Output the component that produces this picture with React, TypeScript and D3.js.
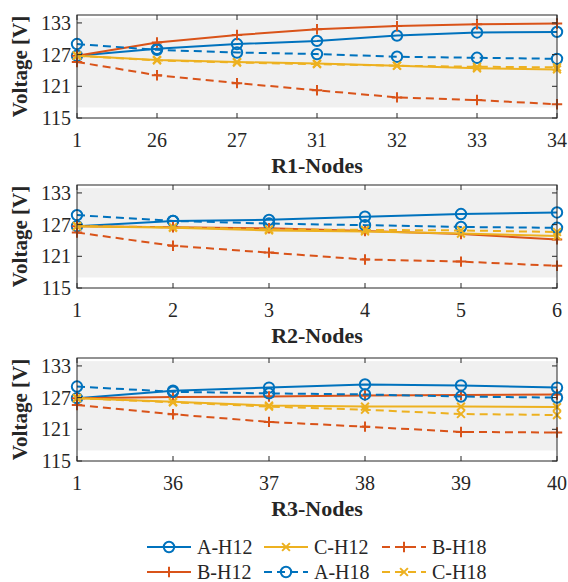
import React from "react";
import * as d3 from "d3";

const r1Nodes = ["1", "26", "27", "31", "32", "33", "34"];
const r2Nodes = ["1", "2", "3", "4", "5", "6"];
const r3Nodes = ["1", "36", "37", "38", "39", "40"];
const yTicks = [115, 121, 127, 133];
const seriesNames = ["A-H12", "B-H12", "C-H12", "A-H18", "B-H18", "C-H18"];

// R1 panel values
const r1AH12 = [126.8, 128.1, 129.0, 129.6, 130.6, 131.2, 131.3];
const r1BH12 = [126.8, 129.3, 130.7, 131.8, 132.4, 132.75, 132.9];
const r1CH12 = [126.8, 126.0, 125.6, 125.3, 124.9, 124.4, 124.2];
const r1AH18 = [129.0, 127.9, 127.4, 127.1, 126.6, 126.4, 126.2];
const r1BH18 = [125.6, 123.1, 121.6, 120.25, 118.9, 118.4, 117.6];
const r1CH18 = [126.8, 125.9, 125.5, 125.2, 124.9, 124.7, 124.6];

// R2 panel values
const r2AH12 = [126.7, 127.7, 127.9, 128.5, 129.0, 129.3];
const r2BH12 = [126.7, 126.5, 126.3, 125.8, 125.2, 124.2];
const r2CH12 = [126.7, 126.4, 125.9, 125.7, 125.3, 124.85];
const r2AH18 = [128.8, 127.7, 127.2, 126.9, 126.55, 126.4];
const r2BH18 = [125.5, 123.0, 121.7, 120.4, 120.0, 119.2];
const r2CH18 = [126.7, 126.5, 126.1, 126.0, 125.9, 125.6];

// R3 panel values
const r3AH12 = [126.9, 128.3, 128.9, 129.5, 129.3, 128.9];
const r3BH12 = [126.9, 127.1, 127.2, 127.4, 127.5, 127.6];
const r3CH12 = [126.9, 126.2, 125.5, 125.3, 125.3, 125.2];
const r3AH18 = [129.1, 128.1, 127.8, 127.6, 127.2, 127.0];
const r3BH18 = [125.6, 123.85, 122.4, 121.5, 120.5, 120.4];
const r3CH18 = [126.9, 126.1, 125.3, 124.7, 123.9, 123.7];

const BLUE = "#0072BD";
const ORANGE = "#D95319";
const YELLOW = "#EDB120";
const AX = "#262626";
const FONT = "'Liberation Serif', 'Times New Roman', serif";

type Style = { color: string; dashed: boolean; marker: "o" | "+" | "x" };
const styles: Style[] = [
  { color: BLUE, dashed: false, marker: "o" },
  { color: ORANGE, dashed: false, marker: "+" },
  { color: YELLOW, dashed: false, marker: "x" },
  { color: BLUE, dashed: true, marker: "o" },
  { color: ORANGE, dashed: true, marker: "+" },
  { color: YELLOW, dashed: true, marker: "x" },
];

const panels = [
  { nodes: r1Nodes, title: "R1-Nodes", top: 15, series: [r1AH12, r1BH12, r1CH12, r1AH18, r1BH18, r1CH18] },
  { nodes: r2Nodes, title: "R2-Nodes", top: 185, series: [r2AH12, r2BH12, r2CH12, r2AH18, r2BH18, r2CH18] },
  { nodes: r3Nodes, title: "R3-Nodes", top: 358, series: [r3AH12, r3BH12, r3CH12, r3AH18, r3BH18, r3CH18] },
];

const LEFT = 77;
const RIGHT = 557;
const PH = 103;

function Marker({ x, y, m, color }: { x: number; y: number; m: string; color: string }) {
  const r = 5.2;
  if (m === "o") return <circle cx={x} cy={y} r={r} fill="none" stroke={color} strokeWidth={2} />;
  if (m === "+")
    return (
      <path d={`M${x - r},${y}H${x + r}M${x},${y - r}V${y + r}`} stroke={color} strokeWidth={2} fill="none" />
    );
  const k = r * 0.75;
  return (
    <path d={`M${x - k},${y - k}L${x + k},${y + k}M${x - k},${y + k}L${x + k},${y - k}`} stroke={color} strokeWidth={2} fill="none" />
  );
}

function Panel({ p }: { p: (typeof panels)[number] }) {
  const x = d3.scalePoint<string>().domain(p.nodes).range([LEFT, RIGHT]);
  const y = d3.scaleLinear().domain([115, 134.5]).range([p.top + PH, p.top]);
  const bottom = p.top + PH;
  return (
    <g>
      <rect x={LEFT} y={y(133.9)} width={RIGHT - LEFT} height={y(117) - y(133.9)} fill="#f0f0f0" />
      {p.series.map((vals, i) => {
        const s = styles[i];
        const line = d3
          .line<number>()
          .x((_, j) => x(p.nodes[j])!)
          .y((v) => y(v));
        return (
          <g key={i}>
            <path d={line(vals)!} fill="none" stroke={s.color} strokeWidth={2} strokeDasharray={s.dashed ? "8,5" : undefined} />
            {vals.map((v, j) => (
              <Marker key={j} x={x(p.nodes[j])!} y={y(v)} m={s.marker} color={s.color} />
            ))}
          </g>
        );
      })}
      <rect x={LEFT} y={p.top} width={RIGHT - LEFT} height={PH} fill="none" stroke={AX} strokeWidth={1} />
      {yTicks.map((t) => (
        <g key={t}>
          <line x1={LEFT} x2={LEFT + 5} y1={y(t)} y2={y(t)} stroke={AX} />
          <line x1={RIGHT} x2={RIGHT - 5} y1={y(t)} y2={y(t)} stroke={AX} />
          <text x={LEFT - 6} y={y(t)} dy="0.35em" textAnchor="end" fontSize={20} fill={AX} fontFamily={FONT}>
            {t}
          </text>
        </g>
      ))}
      {p.nodes.map((n) => (
        <g key={n}>
          <line x1={x(n)} x2={x(n)} y1={bottom} y2={bottom - 5} stroke={AX} />
          <line x1={x(n)} x2={x(n)} y1={p.top} y2={p.top + 5} stroke={AX} />
          <text x={x(n)} y={bottom + 29} textAnchor="middle" fontSize={20} fill={AX} fontFamily={FONT}>
            {n}
          </text>
        </g>
      ))}
      <text x={(LEFT + RIGHT) / 2} y={bottom + 55} textAnchor="middle" fontSize={22} fontWeight="bold" fill={AX} fontFamily={FONT}>
        {p.title}
      </text>
      <text
        transform={`translate(27,${p.top + PH / 2}) rotate(-90)`}
        textAnchor="middle"
        fontSize={21}
        fontWeight="bold"
        fill={AX}
        fontFamily={FONT}
      >
        Voltage [V]
      </text>
    </g>
  );
}

const legendCols = [147, 264, 382];
const legendRows = [547, 572];

export default function App() {
  return (
    <svg width={568} height={582} style={{ position: "absolute", left: 0, top: 0, background: "#fff" }}>
      {panels.map((p) => (
        <Panel key={p.title} p={p} />
      ))}
      {seriesNames.map((name, i) => {
        const s = styles[i];
        const col = Math.floor(i / 2);
        const row = i % 2;
        const lx = legendCols[col];
        const ly = legendRows[row];
        return (
          <g key={name}>
            <line x1={lx} x2={lx + 44} y1={ly} y2={ly} stroke={s.color} strokeWidth={2} strokeDasharray={s.dashed ? "8,5" : undefined} />
            <Marker x={lx + 22} y={ly} m={s.marker} color={s.color} />
            <text x={lx + 50} y={ly} dy="0.35em" fontSize={20} fill={AX} fontFamily={FONT}>
              {name}
            </text>
          </g>
        );
      })}
    </svg>
  );
}
